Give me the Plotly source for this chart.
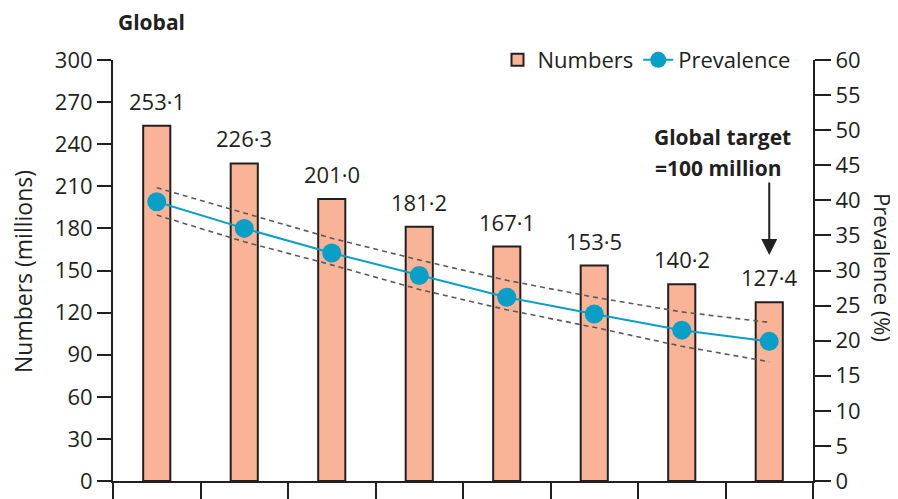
import plotly.graph_objects as go

years = ["1990", "1995", "2000", "2005", "2010", "2015", "2020", "2025"]
numbers = [253.1, 226.3, 201.0, 181.2, 167.1, 153.5, 140.2, 127.4]
prevalence = [39.8, 36.0, 32.5, 29.3, 26.2, 23.8, 21.5, 19.9]
prev_upper = [41.8, 38.2, 34.6, 31.5, 28.6, 26.2, 24.1, 22.6]
prev_lower = [37.9, 34.1, 30.8, 27.3, 24.4, 21.9, 19.2, 17.0]
left_ticks = list(range(0, 301, 30))
right_ticks = list(range(0, 61, 5))
target_label = ["Global target", "=100 million"]

INK = "#231F20"
FONT = "Open Sans"
FS = 22

fig = go.Figure()
fig.add_trace(go.Bar(
    x=years, y=numbers, name="Numbers", width=0.31,
    marker=dict(color="#F9B498", line=dict(color=INK, width=2)),
))
fig.add_trace(go.Scatter(
    x=years, y=prev_upper, yaxis="y2", mode="lines", showlegend=False,
    line=dict(color="#5a5a5a", width=1.6, dash="5px,4px"), hoverinfo="skip",
))
fig.add_trace(go.Scatter(
    x=years, y=prev_lower, yaxis="y2", mode="lines", showlegend=False,
    line=dict(color="#5a5a5a", width=1.6, dash="5px,4px"), hoverinfo="skip",
))
fig.add_trace(go.Scatter(
    x=years, y=prevalence, yaxis="y2", mode="lines+markers", name="Prevalence",
    line=dict(color="#0A9FC6", width=2),
    marker=dict(color="#0A9FC6", size=19),
))

C = dict(xanchor="center", yanchor="middle", showarrow=False)
annotations = []
for i, v in enumerate(numbers):
    annotations.append(dict(
        x=i, y=v, xref="x", yref="y", text=f"{v:.1f}".replace(".", "·"),
        yshift=25, font=dict(size=FS, color=INK, family=FONT), **C,
    ))
annotations += [
    dict(x=(151 - 113) / 700, y=(481 - 22) / 421, xref="paper", yref="paper",
         text="<b>Global</b>", font=dict(size=FS - 1, color=INK, family=FONT), **C),
    dict(x=(722 - 113) / 700, y=(481 - 137) / 421, xref="paper", yref="paper",
         text=f"<b>{target_label[0]}</b>", font=dict(size=FS - 1, color=INK, family=FONT), **C),
    dict(x=(718 - 113) / 700, y=(481 - 168) / 421, xref="paper", yref="paper",
         text=f"<b>{target_label[1]}</b>", font=dict(size=FS - 1, color=INK, family=FONT), **C),
    dict(x=(883 - 113) / 700, y=(481 - 267) / 421, xref="paper", yref="paper", text="Prevalence (%)",
         textangle=90, font=dict(size=FS, color=INK, family=FONT), **C),
    dict(x=(23 - 113) / 700, y=(481 - 272) / 421, xref="paper", yref="paper", text="Numbers (millions)",
         textangle=-90, font=dict(size=FS + 1, color=INK, family=FONT), **C),
    dict(x=len(years) - 1, y=161, xref="x", yref="y", text="", showarrow=True,
         ax=0, ay=-74, arrowhead=2, arrowsize=1.6, arrowwidth=2, arrowcolor=INK),
]

axis_common = dict(showline=True, linecolor=INK, linewidth=2, ticks="outside",
                   tickcolor=INK, tickwidth=2, showgrid=False, zeroline=False,
                   automargin=False, tickfont=dict(size=FS, color=INK, family=FONT))

# the page body adds an 8px offset, so the figure is 8px smaller than the window
fig.update_layout(
    width=890, height=491,
    margin=dict(l=105, r=85, t=52, b=18),
    paper_bgcolor="white", plot_bgcolor="white",
    font=dict(family=FONT, color=INK),
    showlegend=True,
    legend=dict(orientation="h", x=0.975, xanchor="right", y=1.0, yanchor="middle",
                font=dict(size=FS, color=INK, family=FONT), bgcolor="rgba(0,0,0,0)",
                traceorder="normal"),
    xaxis=dict(type="category", range=[-0.5, 7.5], tickson="boundaries",
               showticklabels=False, showline=True, linecolor=INK, linewidth=2,
               ticks="outside", ticklen=22, tickcolor=INK, tickwidth=2, showgrid=False,
               automargin=False),
    yaxis=dict(range=[0, 300], tickvals=left_ticks, ticklen=14, **axis_common),
    yaxis2=dict(range=[0, 60], tickvals=right_ticks, overlaying="y", side="right", ticklen=16,
                **axis_common),
    annotations=annotations,
)

fig.write_html("out.html")
